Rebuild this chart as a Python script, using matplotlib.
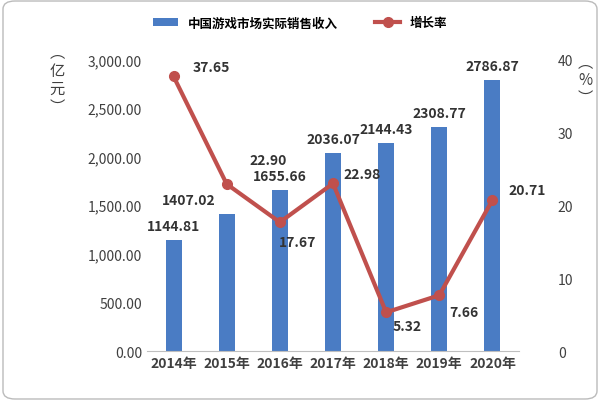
import matplotlib.pyplot as plt
from matplotlib.ticker import FuncFormatter
from matplotlib.patches import FancyBboxPatch

plt.rcParams['font.family'] = 'Noto Sans CJK SC'

years = ['2014年', '2015年', '2016年', '2017年', '2018年', '2019年', '2020年']
revenue = [1144.81, 1407.02, 1655.66, 2036.07, 2144.43, 2308.77, 2786.87]
growth = [37.65, 22.90, 17.67, 22.98, 5.32, 7.66, 20.71]

fig = plt.figure(figsize=(6, 4.02), dpi=100)
fig.patches.append(FancyBboxPatch((0.005, 0.005), 0.99, 0.99, boxstyle='round,pad=0,rounding_size=0.02',
                                  transform=fig.transFigure, fill=False, edgecolor='#bbbbbb', linewidth=1))
ax1 = fig.add_axes([0.245, 0.124, 0.62, 0.726])
x = list(range(len(years)))
ax1.bar(x, revenue, width=0.3, color='#4a7cc4', label='中国游戏市场实际销售收入')
ax1.set_ylim(0, 3000)
ax1.set_yticks(range(0, 3001, 500))
ax1.yaxis.set_major_formatter(FuncFormatter(lambda v, p: f'{v:,.2f}'))
ax1.set_xlim(-0.5, 6.5)
ax1.set_xticks(x)
ax1.set_xticklabels(years, fontsize=10, fontweight='bold', color='#404040')
ax1.tick_params(axis='y', labelsize=10, colors='#404040', length=0)
ax1.tick_params(axis='x', length=0)
for s in ['top', 'right', 'left']:
    ax1.spines[s].set_visible(False)
ax1.spines['bottom'].set_color('#bfbfbf')
bar_dx = [0, -27, 0, 0, 0, 0, 0]
for xi, v, dx in zip(x, revenue, bar_dx):
    ax1.annotate(f'{v:.2f}', (xi, v), xytext=(dx, 5), textcoords='offset points',
                 ha='center', va='bottom', fontsize=10, fontweight='bold', color='#333333')

ax2 = ax1.twinx()
ax2.plot(x, growth, color='#c0504d', linewidth=3, marker='o', markersize=7, label='增长率')
ax2.set_ylim(0, 40)
ax2.set_yticks(range(0, 41, 10))
ax2.tick_params(axis='y', labelsize=10, colors='#404040', length=0, pad=28)
for s in ['top', 'right', 'left', 'bottom']:
    ax2.spines[s].set_visible(False)
offsets = [(27, 7), (30, 17), (13, -14), (21, 7), (15, -10), (18, -12), (25, 7)]
for xi, g, (dx, dy) in zip(x, growth, offsets):
    ax2.annotate(f'{g:.2f}', (xi, g), xytext=(dx, dy), textcoords='offset points',
                 ha='center', va='center', fontsize=10, fontweight='bold', color='#333333')

fig.text(0.095, 0.80, '︵\n亿\n元\n︶', fontsize=11, color='#404040', ha='center', va='center', linespacing=1.1)
fig.text(0.975, 0.80, '︵\n%\n︶', fontsize=11, color='#404040', ha='center', va='center', linespacing=1.1)

h1, l1 = ax1.get_legend_handles_labels()
h2, l2 = ax2.get_legend_handles_labels()
fig.legend(h1 + h2, l1 + l2, loc='upper center', bbox_to_anchor=(0.5, 0.985), ncol=2, frameon=False,
           prop={'size': 9, 'weight': 'bold'}, columnspacing=3)

plt.savefig('out.png', dpi=100)
